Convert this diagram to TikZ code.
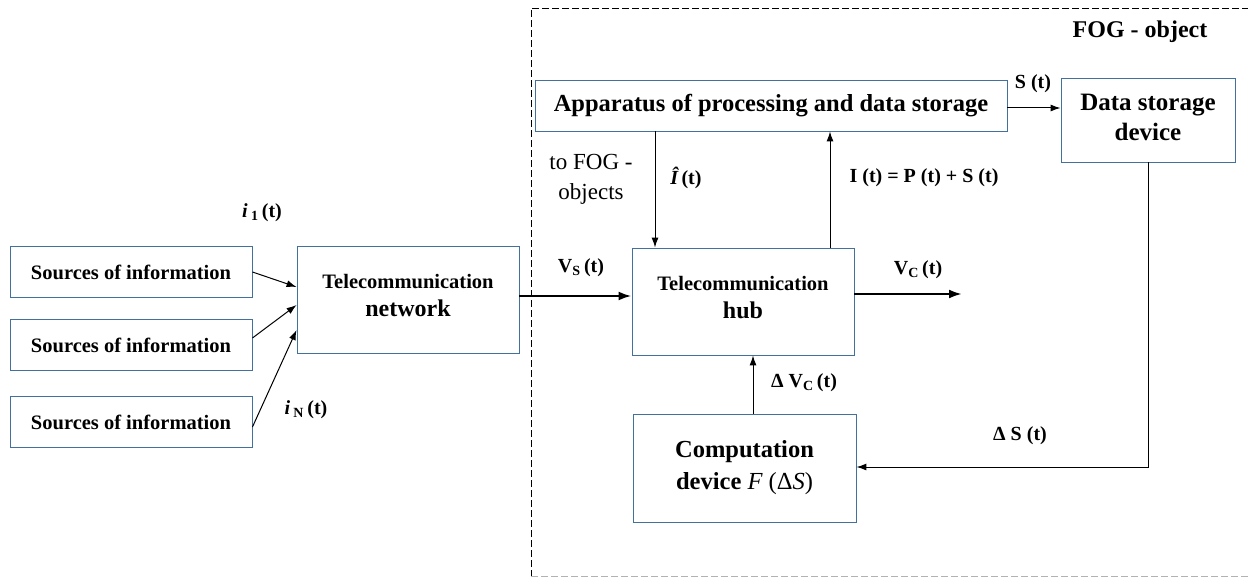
\documentclass[tikz,border=0pt]{standalone}
\usepackage{fontspec}
\setmainfont{Liberation Serif}
\usetikzlibrary{arrows.meta, positioning}
\definecolor{boxblue}{RGB}{65,113,156}
\tikzset{
  blk/.style = {draw=boxblue, line width=0.9pt, align=center, inner sep=0pt,
    text centered, font=\bfseries},
  lbl/.style = {inner sep=0pt, font=\bfseries\fontsize{20}{22}\selectfont},
  ln/.style = {line width=1pt, -{Latex[length=10pt, width=7pt]}},
  thk/.style = {line width=2.4pt, -{Latex[length=13pt, width=9pt]}}
}

\begin{document}
\begin{tikzpicture}[x=1pt, y=-1pt]
\useasboundingbox (0,0) rectangle (1248,577);
% FOG frame
\draw[dashed, dash pattern=on 7pt off 3pt, line width=0.8pt] (531,577) -- (531,8) -- (1252,8);
\draw[gray!60, dashed, dash pattern=on 7pt off 3pt, line width=0.8pt] (531,576) -- (1252,576);
\node[lbl, font=\bfseries\fontsize{24}{26}\selectfont] (fog) at (1140,32) {FOG - object};

% sources
\node[blk, minimum width=242pt, minimum height=51pt, font=\bfseries\fontsize{20.5}{22}\selectfont] (src1) at (131,272) {Sources of information};
\node[blk, minimum width=242pt, minimum height=51pt, font=\bfseries\fontsize{20.5}{22}\selectfont] (src2) at (131,345) {Sources of information};
\node[blk, minimum width=242pt, minimum height=51pt, font=\bfseries\fontsize{20.5}{22}\selectfont] (src3) at (131,422) {Sources of information};

% boxes
\node[blk, minimum width=222pt, minimum height=107pt, font=\bfseries\fontsize{24}{28}\selectfont] (net) at (408,299.5)
  {{\fontsize{20.5}{28}\selectfont Telecommunication}\\network\\[-20pt]};
\node[blk, minimum width=222pt, minimum height=107pt, font=\bfseries\fontsize{24}{28}\selectfont] (hub) at (743,301.5)
  {{\fontsize{20.5}{28}\selectfont Telecommunication}\\hub\\[-20pt]};
\node[blk, minimum width=223pt, minimum height=108pt, font=\bfseries\fontsize{24.5}{32}\selectfont] (comp) at (744.5,468)
  {Computation\\device {\mdseries\itshape F} {\mdseries(Δ\textit{S})}};
\node[blk, minimum width=472pt, minimum height=51pt, font=\bfseries\fontsize{24.5}{28}\selectfont] (app) at (771,105.5)
  {Apparatus of processing and data storage};
\node[blk, minimum width=174pt, minimum height=84pt, font=\bfseries\fontsize{25}{30}\selectfont] (store) at (1148,120)
  {Data storage\\device\\[-24pt]};

% connectors
\draw[ln] (src1.east) -- ([yshift=12.5pt]net.west);
\draw[ln] ([yshift=7pt]src2.east) -- ([yshift=-5.5pt]net.west);
\draw[ln] ([yshift=-5pt]src3.east) -- ([yshift=-30.5pt]net.west);
\draw[thk] ([yshift=3.5pt]net.east) -- ([yshift=3.5pt]net.east -| hub.west);
\coordinate (vcend) at (962,294);
\draw[thk] (hub.east |- vcend) -- (vcend);
\draw[ln] ([xshift=-88pt]hub.north |- app.south) -- ([xshift=-88pt]hub.north);
\draw[ln] ([xshift=87pt]hub.north) -- ([xshift=87pt]hub.north |- app.south);
\draw[ln] ([yshift=-2.5pt]app.east) -- ([yshift=-2.5pt]app.east -| store.west);
\draw[ln] ([xshift=8.5pt]comp.north) -- ([xshift=8.5pt]comp.north |- hub.south);
\draw[ln] (store.south) |- ([yshift=1pt]comp.east);

% labels
\node[lbl] (i1) at (262,213) {{\itshape i}\,\textsubscript{1}\,(t)};
\node[lbl] (iN) at (306,410) {{\itshape i}\,\textsubscript{N}\,(t)};
\node[lbl] (vs) at (581,268) {V\textsubscript{S}\,(t)};
\node[lbl] (vc) at (918,270) {V\textsubscript{C}\,(t)};
\node[lbl] (ihat) at (686,178) {{\itshape\^{I}}\,(t)};
\node[lbl, align=center, font=\fontsize{23}{30}\selectfont] (tofog) at (591,179) {to FOG -\\objects};
\node[lbl] (ipt) at (924,178) {I (t) = P (t) + S (t)};
\node[lbl] (st) at (1033,84) {S (t)};
\node[lbl] (dvc) at (804,383) {Δ V\textsubscript{C}\,(t)};
\node[lbl] (ds) at (1020,436) {Δ S (t)};
\end{tikzpicture}
\end{document}
